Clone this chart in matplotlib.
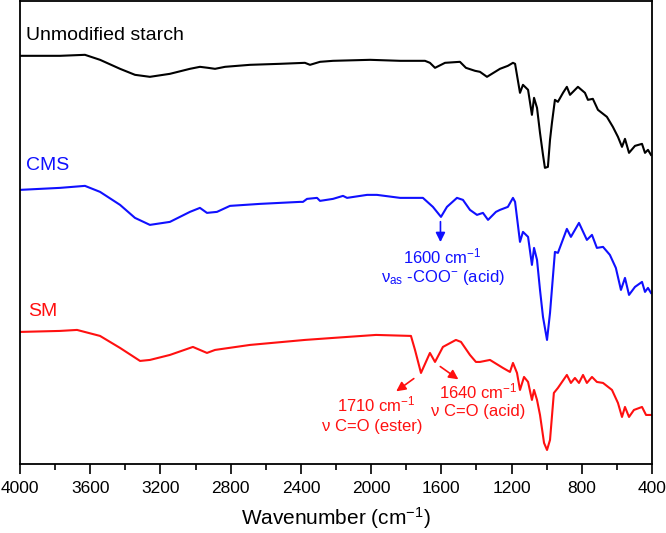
import matplotlib.pyplot as plt
from matplotlib.ticker import MultipleLocator

plt.rcParams['font.family'] = ['Liberation Sans', 'DejaVu Sans']
plt.rcParams['mathtext.default'] = 'regular'

# FTIR spectra, wavenumber (cm-1) vs stacked transmittance (a.u.)
starch_wn = [4000, 3772, 3630, 3544, 3430, 3345, 3260, 3146, 3032, 2975, 2929, 2889, 2832,
             2690, 2519, 2377, 2348, 2291, 2217, 2006, 1835, 1693, 1665, 1636, 1579, 1494,
             1460, 1408, 1380, 1340, 1266, 1221, 1192, 1180, 1152, 1135, 1106, 1084, 1072,
             1055, 1038, 1021, 1010, 993, 981, 970, 953, 936, 907, 885, 867, 822, 782, 765,
             737, 708, 657, 623, 594, 571, 554, 531, 497, 457, 440, 423, 406]
starch_t = [408, 408, 409, 404, 395, 389, 387, 390, 395, 397, 396, 395, 397,
            399, 400, 401, 399, 402, 403, 404, 403, 403, 401, 396, 401, 402,
            396, 393, 392, 387, 395, 398, 401, 400, 371, 379, 374, 349, 366,
            356, 331, 309, 296, 297, 324, 341, 364, 362, 371, 377, 369, 377, 371, 364,
            365, 354, 347, 337, 327, 317, 325, 311, 318, 320, 311, 314, 309]

cms_wn = [4000, 3772, 3630, 3544, 3430, 3345, 3260, 3146, 3032, 2975, 2935, 2878, 2804,
          2633, 2405, 2388, 2365, 2308, 2291, 2217, 2160, 2137, 2023, 1967, 1835, 1705,
          1648, 1602, 1568, 1511, 1477, 1437, 1397, 1363, 1334, 1289, 1266, 1221, 1192,
          1180, 1152, 1135, 1106, 1084, 1072, 1055, 1038, 1021, 998, 981, 953, 936, 885,
          862, 816, 771, 742, 714, 679, 640, 606, 577, 554, 531, 497, 457, 440, 423, 406]
cms_t = [274, 276, 278, 272, 259, 246, 239, 242, 252, 256, 251, 252, 258,
         260, 262, 262, 265, 266, 263, 265, 268, 266, 269, 269, 266, 266,
         257, 247, 257, 266, 264, 254, 249, 251, 244, 252, 254, 257, 266,
         262, 222, 232, 227, 199, 216, 204, 174, 147, 124, 151, 212, 211, 235,
         227, 241, 224, 229, 216, 217, 209, 196, 174, 186, 169, 177, 182, 172, 176, 171]

sm_wn = [4000, 3772, 3675, 3544, 3430, 3316, 3260, 3146, 3015, 2935, 2889, 2690, 2377,
         2217, 1972, 1773, 1750, 1716, 1665, 1636, 1591, 1517, 1488, 1437, 1403, 1380,
         1323, 1249, 1209, 1192, 1169, 1152, 1129, 1106, 1084, 1072, 1055, 1038, 1015,
         998, 981, 959, 936, 885, 862, 839, 816, 793, 771, 742, 714, 679, 628, 594, 571,
         554, 531, 503, 457, 434, 406]
sm_t = [132, 133, 134, 128, 116, 103, 104, 109, 117, 111, 114, 119, 124,
        126, 129, 128, 114, 91, 111, 102, 117, 124, 122, 109, 102, 102,
        104, 96, 92, 101, 91, 74, 87, 82, 64, 74, 64, 49, 21,
        14, 24, 71, 76, 89, 81, 86, 81, 89, 81, 87, 82, 81, 74, 61, 47,
        57, 47, 54, 57, 49, 49]

blue = '#1010ff'
red = '#ff1010'

fig = plt.figure(figsize=(6.66, 5.33), dpi=100)
ax = fig.add_axes([0.030, 0.1295, 0.949, 0.869])

ax.plot(starch_wn, starch_t, color='black', lw=1.5)
ax.plot(cms_wn, cms_t, color=blue, lw=1.5)
ax.plot(sm_wn, sm_t, color=red, lw=1.5)

ax.set_xlim(4000, 400)
ax.set_ylim(0, 463)
ax.xaxis.set_major_locator(MultipleLocator(400))
ax.xaxis.set_minor_locator(MultipleLocator(200))
ax.tick_params(axis='x', which='major', length=7, width=1.2, direction='out', labelsize=12.5, pad=5)
ax.tick_params(axis='x', which='minor', length=4, width=1.2, direction='out')
ax.set_yticks([])
for s in ax.spines.values():
    s.set_linewidth(1.3)
ax.set_xlabel('Wavenumber (cm$^{-1}$)', fontsize=15, labelpad=7)

# sample labels
ax.text(3966, 428, 'Unmodified starch', fontsize=14, va='center', ha='left')
ax.text(3966, 298, 'CMS', fontsize=14, va='center', ha='left', color=blue)
ax.text(3954, 152, 'SM', fontsize=14, va='center', ha='left', color=red)

# peak annotations
ax.annotate('', xy=(1605, 219), xytext=(1605, 245),
            arrowprops=dict(arrowstyle='-|>', color=blue, lw=1.2, mutation_scale=14))
ax.text(1596, 207, '1600 cm$^{-1}$', color=blue, fontsize=12, ha='center', va='center')
ax.text(1591, 186, 'ν$_{as}$ -COO$^{-}$ (acid)', color=blue, fontsize=12, ha='center', va='center')

ax.annotate('', xy=(1870, 71), xytext=(1744, 87),
            arrowprops=dict(arrowstyle='-|>', color=red, lw=1.2, mutation_scale=14))
ax.text(1972, 60, '1710 cm$^{-1}$', color=red, fontsize=12, ha='center', va='center')
ax.text(1995, 37, 'ν C=O (ester)', color=red, fontsize=12, ha='center', va='center')

ax.annotate('', xy=(1490, 83), xytext=(1619, 99),
            arrowprops=dict(arrowstyle='-|>', color=red, lw=1.2, mutation_scale=14))
ax.text(1391, 72, '1640 cm$^{-1}$', color=red, fontsize=12, ha='center', va='center')
ax.text(1391, 52, 'ν C=O (acid)', color=red, fontsize=12, ha='center', va='center')

fig.savefig('out.png', dpi=100)
